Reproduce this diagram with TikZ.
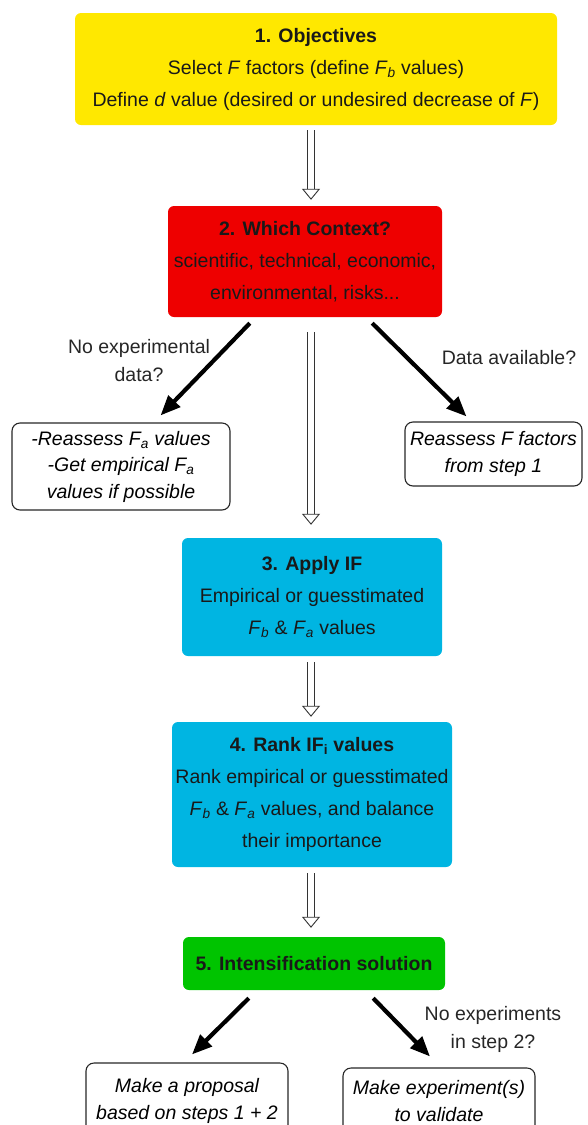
\documentclass[tikz,border=0pt]{standalone}
\usepackage{fontspec}
\setmainfont{Liberation Sans}
\usetikzlibrary{arrows.meta}

\definecolor{objyellow}{HTML}{FFE800}
\definecolor{ctxred}{HTML}{EE0000}
\definecolor{stepcyan}{HTML}{00B5E2}
\definecolor{solgreen}{HTML}{00C400}
\newcommand{\Fsub}[1]{\textit{F}\textsubscript{\textit{#1}}}

\begin{document}
\begin{tikzpicture}[x=1pt,y=-1pt,
  stepbox/.style={rounded corners=6pt,align=center,text=black!90,
    font=\fontsize{19.5}{32}\selectfont},
  notebox/.style={draw=black!85,line width=1.1pt,rounded corners=8pt,align=center,
    font=\fontsize{19.5}{26.5}\selectfont\itshape},
  lbl/.style={align=center,text=black!85,font=\fontsize{19.5}{28}\selectfont},
  hollow/.style={draw=black!80,double=white,double distance=6.5pt,line width=0.9pt,
    -{Triangle[open,fill=white,length=11pt,width=18pt]}},
  blk/.style={line width=4.2pt,-{Triangle[length=20pt,width=16pt]}}]
\clip (0,0) rectangle (587,1125);
\tikzstyle{every node}+=[inner sep=0pt]
\node [stepbox,fill=objyellow,minimum width=482pt,minimum height=112pt] (obj) at (316,69)
  {\textbf{1. Objectives}\\Select \textit{F} factors (define \Fsub{b} values)\\Define \textit{d} value (desired or undesired decrease of \textit{F})};
\node [stepbox,fill=ctxred,minimum width=274pt,minimum height=111pt] (ctx) at (305,261.5)
  {\textbf{2. Which Context?}\\scientific, technical, economic,\\environmental, risks...};
\node [stepbox,fill=stepcyan,minimum width=260pt,minimum height=118pt] (appl) at (312,597)
  {\textbf{3. Apply IF}\\Empirical or guesstimated\\\Fsub{b} \& \Fsub{a} values};
\node [stepbox,fill=stepcyan,minimum width=280pt,minimum height=145pt] (rank) at (312,794.5)
  {\textbf{4. Rank IF\textsubscript{i} values}\\Rank empirical or guesstimated\\\Fsub{b} \& \Fsub{a} values, and balance\\their importance};
\node [stepbox,fill=solgreen,minimum width=262pt,minimum height=53pt] (sol) at (314,963.5)
  {\textbf{5. Intensification solution}};
\node [notebox,minimum width=218pt,minimum height=87pt] (noexp) at (121,466.5)
  {-Reassess F\textsubscript{a} values\\-Get empirical F\textsubscript{a}\\values if possible};
\node [notebox,minimum width=177pt,minimum height=64pt] (avail) at (493.5,454)
  {Reassess F factors\\from step 1};
\node [notebox,minimum width=202pt,minimum height=76pt] (prop) at (187,1101)
  {Make a proposal\\based on steps 1 + 2};
\node [notebox,minimum width=192pt,minimum height=66pt] (valid) at (439,1101)
  {Make experiment(s)\\to validate};
\node [lbl] (lnoexp) at (139,361) {No experimental\\data?};
\node [lbl] (lavail) at (509,358) {Data available?};
\node [lbl] (lnovalid) at (493,1029) {No experiments\\in step 2?};
\draw [hollow] ([xshift=-5pt,yshift=-5pt]obj.south) -- ([xshift=6pt,yshift=6pt]ctx.north);
\draw [hollow] ([xshift=6pt,yshift=-15pt]ctx.south) -- ([xshift=-1pt,yshift=13pt]appl.north);
\draw [hollow] ([xshift=-1pt,yshift=-6pt]appl.south) -- ([xshift=-1pt,yshift=5pt]rank.north);
\draw [hollow] ([xshift=-1pt,yshift=-6pt]rank.south) -- ([xshift=-3pt,yshift=9pt]sol.north);
\draw [blk] ([xshift=82pt,yshift=-6pt]ctx.south west) -- ([xshift=-70pt,yshift=7pt]noexp.north east);
\draw [blk] ([xshift=-70pt,yshift=-6pt]ctx.south east) -- ([xshift=-27pt,yshift=5pt]avail.north);
\draw [blk] ([xshift=66pt,yshift=-8pt]sol.south west) -- ([xshift=5pt,yshift=8pt]prop.north);
\draw [blk] ([xshift=-72pt,yshift=-8pt]sol.south east) -- ([xshift=-9pt,yshift=11pt]valid.north);
\end{tikzpicture}
\end{document}
